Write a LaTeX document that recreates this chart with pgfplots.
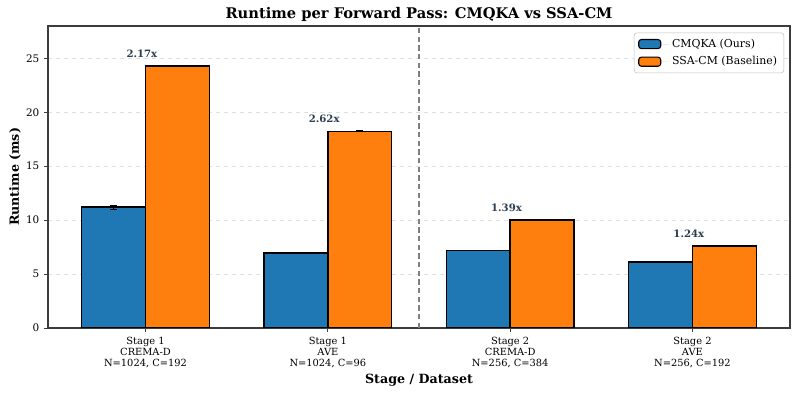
\documentclass[border=0pt]{standalone}
\usepackage{fontspec}
\setmainfont{DejaVu Serif}
\usepackage{pgfplots}
\pgfplotsset{compat=1.18}
\definecolor{cmblue}{RGB}{31,119,180}
\definecolor{cmorange}{RGB}{255,127,14}
\definecolor{annot}{RGB}{44,62,80}
\definecolor{spine}{RGB}{60,60,60}

\begin{document}
\begin{tikzpicture}
\begin{axis}[
  name=ax,
  scale only axis,
  width=556.5pt, height=226.5pt,
  ybar, bar width=0.35,
  xmin=-0.535, xmax=3.535, ymin=0, ymax=28,
  xtick={0,1,2,3},
  xticklabels={{Stage 1\\CREMA-D\\N=1024, C=192},{Stage 1\\AVE\\N=1024, C=96},
               {Stage 2\\CREMA-D\\N=256, C=384},{Stage 2\\AVE\\N=256, C=192}},
  xticklabel style={align=center, font=\fontsize{7.4}{8.4}\selectfont},
  ytick={0,5,10,15,20,25},
  yticklabel style={font=\fontsize{7.8}{9}\selectfont},
  /pgf/number format/assume math mode=true,
  tick align=outside, tick pos=left,
  major tick length=3pt,
  ymajorgrids, grid style={dashed, gray!25, line width=0.5pt},
  axis line style={spine, line width=0.8pt},
  tick style={spine, line width=0.6pt},
  title={Runtime per Forward Pass: CMQKA vs SSA-CM},
  every axis title/.style={font=\fontsize{11}{13}\selectfont\bfseries,
     at={(axis description cs:0.5,1)}, anchor=base, yshift=5.25pt},
  xlabel={Stage / Dataset},
  ylabel={Runtime (ms)},
  xlabel style={font=\fontsize{9.5}{11}\selectfont\bfseries, at={(axis description cs:0.5,-0.172)}, anchor=center},
  ylabel style={font=\fontsize{9.5}{11}\selectfont\bfseries, at={(axis description cs:-0.0445,0.5)}, anchor=center},
  legend style={at={(0.992,0.978)}, anchor=north east, draw=gray!50, rounded corners=2pt,
                font=\fontsize{8.2}{9.5}\selectfont, cells={anchor=west}, row sep=1.5pt,
                inner xsep=3pt, inner ysep=2.5pt},
  error bars/error bar style={black, line width=0.8pt},
  error bars/error mark options={black, rotate=90, mark size=2.5pt, line width=0.8pt},
]

\addplot[bar shift=-0.175, fill=cmblue, draw=black, line width=1.1pt,
  legend image code/.code={\draw[fill=cmblue, draw=black, line width=0.8pt] (0pt,-3.4pt) rectangle (16.5pt,3.4pt); \path[draw=none] (0pt,0pt) -- (23pt,0pt);},
  error bars/.cd, y dir=both, y explicit]
  coordinates {(0,11.20) +- (0,0.18) (1,6.96) +- (0,0.03) (2,7.20) +- (0,0.02) (3,6.14) +- (0,0.02)};
\addplot[bar shift=0.175, fill=cmorange, draw=black, line width=1.1pt,
  legend image code/.code={\draw[fill=cmorange, draw=black, line width=0.8pt] (0pt,-3.4pt) rectangle (16.5pt,3.4pt); \path[draw=none] (0pt,0pt) -- (23pt,0pt);},
  error bars/.cd, y dir=both, y explicit]
  coordinates {(0,24.28) +- (0,0.06) (1,18.24) +- (0,0.06) (2,10.03) +- (0,0.02) (3,7.60) +- (0,0.02)};
\legend{CMQKA (Ours), SSA-CM (Baseline)}

\draw[gray, dash pattern=on 4pt off 2.5pt, line width=1.1pt] (axis cs:1.5,0) -- (axis cs:1.5,28);

\node[font=\fontsize{7.6}{9}\selectfont\bfseries, text=annot] at (axis cs:-0.02,25.4) {2.17x};
\node[font=\fontsize{7.6}{9}\selectfont\bfseries, text=annot] at (axis cs:0.98,19.35) {2.62x};
\node[font=\fontsize{7.6}{9}\selectfont\bfseries, text=annot] at (axis cs:1.98,11.15) {1.39x};
\node[font=\fontsize{7.6}{9}\selectfont\bfseries, text=annot] at (axis cs:2.98,8.7) {1.24x};
\end{axis}
\pgfresetboundingbox
\path[use as bounding box] ([xshift=-36pt,yshift=-49.5pt]ax.south west) rectangle ([xshift=6pt,yshift=19.5pt]ax.north east);
\end{tikzpicture}
\end{document}
